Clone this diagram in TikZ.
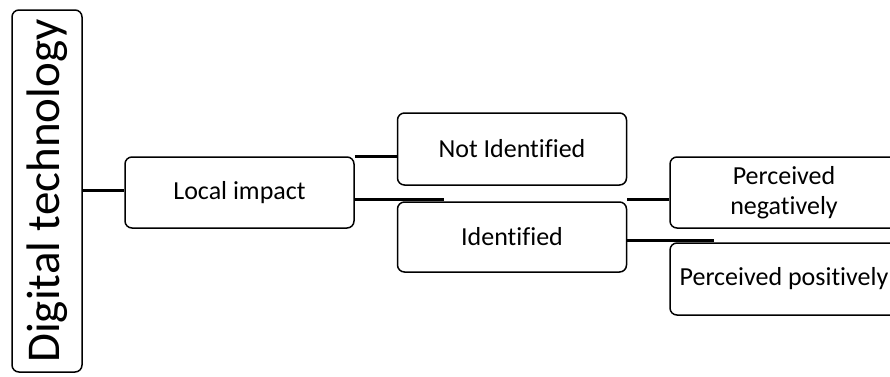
\documentclass[tikz,border=0pt]{standalone}
\usepackage{fontspec}
\setmainfont[Ligatures=NoCommon]{Carlito}
\usepackage{tikz}
\tikzstyle{link} = [line width=3pt]
\tikzstyle{roundRec} = [rectangle, rounded corners=7pt, line width=1.5pt, minimum width=229pt, minimum height=71pt, text centered, align=center, draw=black, font=\fontsize{26}{30}\selectfont]
\tikzstyle{rootRec} = [roundRec, rotate=90, minimum width=362pt, minimum height=70pt, font=\fontsize{47}{52}\selectfont]

\begin{document}
\begin{tikzpicture}[x=1pt, y=1pt]
		\useasboundingbox (0,0) rectangle (890,376);
		\clip (0,0) rectangle (890,376);
		\node (digital) [rootRec] at (47,185) {Digital technology};
		\node (local) [roundRec] at (239.5,183.5) {Local impact};
		\node (notid) [roundRec, minimum height=72pt] at (512,227) {Not Identified};
		\node (ident) [roundRec, minimum height=70pt] at (512,139) {Identified};
		\node (negative) [roundRec, minimum width=228pt] at (784,183.5) {Perceived\\negatively};
		\node (positive) [roundRec, minimum width=228pt, minimum height=72pt] at (784,97) {Perceived positively};
		\draw [link] (digital.south |- 0,186) -- (local.west |- 0,186);
		\draw [link] (local.north east) -- (local.north east -| notid.west);
		\draw [link] ([yshift=2pt]local.east |- ident.north) -- ([xshift=47pt,yshift=2pt]ident.north west);
		\draw [link] ([yshift=2pt]ident.north east) -- ([yshift=2pt]ident.north east -| negative.west);
		\draw [link] ([yshift=2pt]ident.east |- positive.north) -- ([xshift=45pt,yshift=2pt]positive.north west);
	\end{tikzpicture}
\end{document}
